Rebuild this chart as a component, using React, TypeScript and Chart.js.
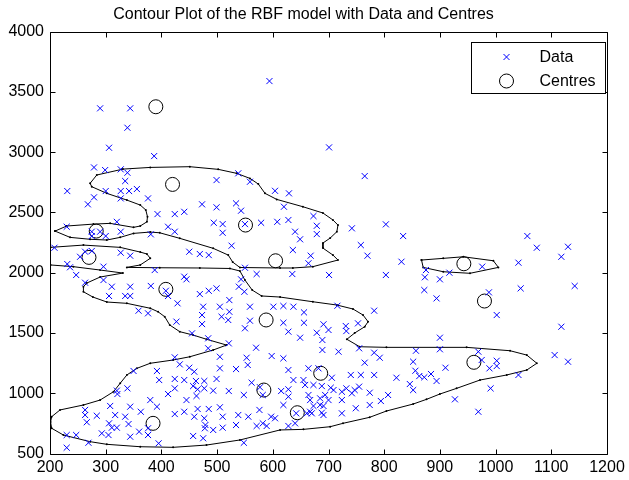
import React, { useEffect, useRef } from "react";
import { Chart, registerables } from "chart.js";

Chart.register(...registerables);

const TITLE = "Contour Plot of the RBF model with Data and Centres";
const FONT = '"Liberation Sans", Arial, Helvetica, sans-serif';

const xTicks = [200, 300, 400, 500, 600, 700, 800, 900, 1000, 1100, 1200];
const yTicks = [500, 1000, 1500, 2000, 2500, 3000, 3500, 4000];

const legendLabels = ["Data", "Centres"];

// Data samples (x, y)
const dataPoints: [number, number][] = [
  [290, 3363], [344, 3363], [339, 3202], [306, 3036], [387, 2967], [594, 3589], [701, 3039],
  [765, 2801], [499, 2768], [538, 2824], [559, 2754], [604, 2679], [629, 2658],
  [279, 2873], [299, 2851], [327, 2857], [339, 2829], [335, 2760], [231, 2677], [300, 2677],
  [327, 2677], [342, 2677], [356, 2694], [279, 2625], [327, 2616], [376, 2616], [268, 2567],
  [473, 2567], [499, 2542], [534, 2575], [543, 2514], [620, 2547], [393, 2486], [424, 2486],
  [441, 2505], [320, 2422], [230, 2381], [275, 2340], [290, 2340], [275, 2304], [300, 2304],
  [327, 2340], [381, 2318], [412, 2381], [424, 2340], [494, 2414], [510, 2403], [510, 2331],
  [550, 2403], [579, 2414], [608, 2422], [628, 2437], [208, 2207], [254, 2132], [263, 2174],
  [275, 2180], [327, 2166], [344, 2141], [450, 2174], [469, 2155], [485, 2146], [526, 2224],
  [231, 2072], [236, 2045], [247, 1981], [296, 2050], [263, 1917], [296, 1939], [311, 1884],
  [344, 1884], [306, 1807], [335, 1807], [344, 1807], [388, 2022], [441, 1967], [445, 1945],
  [381, 1890], [408, 1850], [412, 1807], [429, 1746], [469, 1823], [485, 1850], [499, 1870],
  [522, 1773], [539, 1884], [549, 1842], [543, 1945], [550, 2041], [571, 1989], [475, 1718],
  [505, 1718], [559, 1718], [601, 1718], [619, 1724], [359, 1685], [376, 1663], [473, 1649],
  [522, 1676], [508, 1635], [520, 1608], [473, 1574], [427, 1594], [559, 1602], [550, 1539],
  [628, 1511], [455, 1497], [484, 1456], [484, 1373], [521, 1414], [570, 1378], [505, 1303],
  [598, 1309], [619, 1290], [424, 1298], [433, 1240], [450, 1212], [459, 1179], [505, 1207],
  [534, 1201], [553, 1295], [555, 1235], [628, 1193], [350, 1185], [392, 1185], [396, 1110],
  [424, 1119], [441, 1110], [462, 1102], [477, 1102], [499, 1119], [424, 1041], [412, 994],
  [457, 1060], [465, 1033], [477, 1041], [493, 1022], [521, 1019], [548, 986], [562, 1088],
  [577, 1050], [582, 986], [615, 1019], [628, 1033], [320, 1022], [339, 1041], [321, 994],
  [380, 944], [392, 889], [363, 847], [344, 889], [308, 895], [263, 862], [263, 820],
  [284, 814], [266, 760], [317, 820], [335, 806], [341, 745], [306, 751], [311, 715],
  [320, 715], [293, 668], [305, 654], [344, 640], [360, 682], [376, 710], [376, 654],
  [395, 585], [445, 944], [463, 978], [424, 828], [441, 847], [459, 806], [465, 870],
  [477, 793], [485, 870], [505, 884], [510, 806], [538, 820], [556, 806], [534, 737],
  [510, 715], [493, 696], [478, 710], [479, 737], [457, 646], [475, 627], [548, 590],
  [576, 862], [582, 751], [589, 729], [597, 806], [604, 793], [571, 729], [619, 903],
  [628, 972], [230, 654], [247, 654], [269, 590], [230, 549], [637, 1718], [656, 1671],
  [619, 1585], [656, 1585], [691, 1572], [700, 1525], [679, 1502], [649, 1461], [689, 1442],
  [689, 1359], [718, 1345], [731, 1558], [732, 1516], [753, 1580], [782, 1685], [755, 1373],
  [782, 1337], [792, 1295], [765, 1254], [637, 1110], [664, 1207], [682, 1207], [706, 1129],
  [740, 1152], [758, 1152], [782, 1152], [655, 1110], [658, 1069], [673, 1069], [688, 1060],
  [704, 1046], [709, 1027], [724, 1013], [732, 1041], [747, 1027], [755, 1055], [742, 1000],
  [724, 944], [664, 986], [667, 944], [685, 958], [694, 986], [700, 944], [685, 903],
  [691, 895], [673, 895], [667, 847], [688, 839], [724, 834], [749, 876], [774, 1005],
  [774, 903], [794, 936], [807, 986], [822, 1129], [846, 1077], [852, 1027], [852, 1262],
  [856, 1187], [863, 1143], [872, 1133], [884, 1160], [894, 1102], [857, 1353], [900, 1365],
  [900, 1461], [910, 1212], [927, 950], [969, 1345], [975, 1276], [989, 1207], [1002, 1270],
  [1002, 1226], [1041, 1152], [991, 1041], [969, 847], [1002, 1649], [1106, 1317],
  [1130, 1262], [1118, 1552], [642, 834], [628, 729], [640, 751], [661, 834], [670, 834],
  [691, 820], [673, 2470], [679, 2389], [640, 2340], [649, 2277], [679, 2320], [742, 2368],
  [803, 2401], [834, 2304], [758, 2229], [770, 2141], [636, 2188], [668, 2141], [664, 2078],
  [831, 2091], [701, 1981], [635, 1989], [803, 1981], [875, 2022], [873, 1962], [917, 2000],
  [900, 1945], [872, 1856], [894, 1787], [976, 2050], [1057, 2304], [1074, 2207],
  [1041, 2083], [1045, 1870], [1130, 2215], [1118, 2132], [1142, 1890], [988, 1837],
  [716, 1726],
];

// RBF centres (x, y)
const centres: [number, number][] = [
  [390, 3376], [420, 2732], [551, 2395], [283, 2345], [270, 2127], [408, 1862], [605, 2099],
  [588, 1608], [584, 1027], [385, 751], [980, 1765], [961, 1257], [686, 1166], [644, 839],
  [943, 2074],
];

// Contour lines (x, y) – open line touching the left edge
const contourOuter: [number, number][] = [
  [201, 2210], [260, 2229], [326, 2210], [362, 2171], [374, 2155], [380, 2119], [362, 2064],
  [338, 2044], [397, 2041], [469, 2039], [523, 2035], [541, 2014], [550, 1939], [563, 1856],
  [580, 1807], [613, 1798], [672, 1759], [715, 1732], [744, 1699], [762, 1649], [771, 1594],
  [765, 1552], [747, 1500], [733, 1448], [756, 1386], [804, 1381], [948, 1381], [1026, 1353],
  [1056, 1317], [1074, 1249], [1056, 1193], [1020, 1152], [972, 1110], [930, 1041],
  [900, 994], [876, 950], [852, 911], [804, 853], [774, 801], [726, 751], [703, 723],
  [655, 701], [613, 696], [541, 613], [481, 571], [421, 552], [362, 557], [302, 577],
  [272, 599], [224, 654], [203, 710], [201, 762], [203, 806], [218, 862], [260, 903],
  [290, 944], [314, 1013], [326, 1083], [338, 1152], [356, 1207], [380, 1249], [421, 1276],
  [451, 1303], [493, 1359], [517, 1400], [481, 1448], [457, 1483], [433, 1511], [415, 1566],
  [406, 1635], [394, 1676], [380, 1705], [338, 1746], [302, 1757], [277, 1798], [260, 1842],
  [260, 1884], [266, 1914], [290, 1964], [331, 1997], [290, 2022], [242, 2050], [201, 2064],
];

// Closed contour around the upper / middle lobes
const contourUpper: [number, number][] = [
  [209, 2345], [230, 2387], [278, 2403], [308, 2409], [350, 2376], [362, 2387], [374, 2422],
  [375, 2464], [372, 2520], [362, 2561], [338, 2602], [302, 2658], [275, 2713], [272, 2741],
  [284, 2810], [331, 2859], [380, 2873], [451, 2879], [502, 2857], [535, 2824], [559, 2782],
  [574, 2735], [586, 2658], [607, 2608], [654, 2547], [690, 2495], [708, 2437], [717, 2395],
  [715, 2340], [703, 2287], [690, 2246], [690, 2204], [708, 2146], [717, 2105], [672, 2050],
  [636, 2039], [613, 2039], [541, 2043], [528, 2088], [520, 2146], [493, 2202], [433, 2285],
  [397, 2331], [380, 2337], [350, 2326], [326, 2293], [302, 2271], [272, 2277], [236, 2293],
  [209, 2345],
];

// Small closed contour on the right
const contourLens: [number, number][] = [
  [867, 2105], [906, 2119], [942, 2132], [996, 2099], [1005, 2044], [954, 1995], [906, 2008],
  [870, 2044], [867, 2105],
];

const toXY = (arr: [number, number][]) => arr.map(([x, y]) => ({ x, y }));

const framePlugin = {
  id: "matlabFrame",
  afterDraw(chart: any) {
    const { ctx, chartArea, scales } = chart;
    const { left, right, top, bottom } = chartArea;
    const xs = scales.x;
    const ys = scales.y;
    ctx.save();
    ctx.strokeStyle = "#000";
    ctx.lineWidth = 1;
    const L = Math.round(left) + 0.5;
    const R = Math.round(right) + 0.5;
    const T = Math.round(top) + 0.5;
    const B = Math.round(bottom) + 0.5;
    ctx.beginPath();
    ctx.rect(L, T, R - L, B - T);
    ctx.stroke();
    const tl = 5;
    ctx.beginPath();
    xTicks.forEach((v) => {
      const px = Math.round(xs.getPixelForValue(v)) + 0.5;
      ctx.moveTo(px, B);
      ctx.lineTo(px, B - tl);
      ctx.moveTo(px, T);
      ctx.lineTo(px, T + tl);
    });
    yTicks.forEach((v) => {
      const py = Math.round(ys.getPixelForValue(v)) + 0.5;
      ctx.moveTo(L, py);
      ctx.lineTo(L + tl, py);
      ctx.moveTo(R, py);
      ctx.lineTo(R - tl, py);
    });
    ctx.stroke();

    // legend
    const bw = 134;
    const bh = 51;
    const bx = R - 2 - bw;
    const by = T + 10;
    ctx.fillStyle = "#fff";
    ctx.fillRect(bx, by, bw, bh);
    ctx.strokeStyle = "#000";
    ctx.strokeRect(bx, by, bw, bh);
    const mx = bx + 35;
    const y1 = by + 14.5;
    const y2 = by + 38.5;
    ctx.strokeStyle = "rgb(0,0,255)";
    ctx.beginPath();
    const d = 3;
    ctx.moveTo(mx - d, y1 - d);
    ctx.lineTo(mx + d, y1 + d);
    ctx.moveTo(mx - d, y1 + d);
    ctx.lineTo(mx + d, y1 - d);
    ctx.stroke();
    ctx.strokeStyle = "#000";
    ctx.beginPath();
    ctx.arc(mx, y2, 7, 0, Math.PI * 2);
    ctx.stroke();
    ctx.fillStyle = "#000";
    ctx.font = "16px " + FONT;
    ctx.textAlign = "left";
    ctx.textBaseline = "middle";
    ctx.fillText(legendLabels[0], bx + 68, y1 + 1);
    ctx.fillText(legendLabels[1], bx + 68, y2 + 1);
    ctx.restore();
  },
};

export default function App() {
  const ref = useRef<HTMLCanvasElement | null>(null);
  useEffect(() => {
    if (!ref.current) return;
    const lineDs = (arr: [number, number][]) => ({
      data: toXY(arr),
      showLine: true,
      borderColor: "#000",
      borderWidth: 1,
      pointRadius: 1,
      pointBackgroundColor: "#000",
      pointBorderWidth: 0,
      pointStyle: "circle" as const,
      tension: 0,
      fill: false,
    });
    const chart = new Chart(ref.current, {
      type: "scatter",
      data: {
        datasets: [
          {
            label: legendLabels[0],
            data: toXY(dataPoints),
            pointStyle: "crossRot",
            pointRadius: 4.3,
            borderColor: "rgb(0,0,255)",
            backgroundColor: "rgb(0,0,255)",
            pointBorderWidth: 1,
            showLine: false,
          },
          {
            label: legendLabels[1],
            data: toXY(centres),
            pointStyle: "circle",
            pointRadius: 7,
            borderColor: "#000",
            backgroundColor: "rgba(0,0,0,0)",
            pointBorderWidth: 1,
            showLine: false,
          },
          lineDs(contourOuter),
          lineDs(contourUpper),
          lineDs(contourLens),
        ] as any,
      },
      options: {
        animation: false,
        responsive: false,
        devicePixelRatio: 1,
        layout: { padding: { left: 0, right: 22, top: 0, bottom: 0 } },
        plugins: {
          legend: { display: false },
          tooltip: { enabled: false },
          title: {
            display: true,
            text: TITLE,
            color: "#000",
            font: { family: FONT, size: 16, weight: "normal" as any, lineHeight: 1.2 },
            padding: { top: 5, bottom: 7.3 },
          },
        },
        scales: {
          x: {
            type: "linear",
            min: 200,
            max: 1200,
            afterBuildTicks: (s: any) => {
              s.ticks = xTicks.map((v) => ({ value: v }));
            },
            afterFit: (s: any) => {
              s.height = 26.4;
            },
            ticks: {
              color: "#000",
              font: { family: FONT, size: 16 },
              padding: 4,
              maxRotation: 0,
              autoSkip: false,
              callback: (v: any) => String(v),
            },
            grid: { display: false, drawTicks: false },
            border: { display: false },
          },
          y: {
            type: "linear",
            min: 500,
            max: 4000,
            afterBuildTicks: (s: any) => {
              s.ticks = yTicks.map((v) => ({ value: v }));
            },
            afterFit: (s: any) => {
              s.width = 50;
            },
            ticks: {
              color: "#000",
              font: { family: FONT, size: 16 },
              padding: 6,
              autoSkip: false,
              callback: (v: any) => String(v),
            },
            grid: { display: false, drawTicks: false },
            border: { display: false },
          },
        },
      },
      plugins: [framePlugin],
    });
    return () => chart.destroy();
  }, []);
  return (
    <div style={{ position: "fixed", left: 0, top: 0, width: 629, height: 480, background: "#fff" }}>
      <canvas ref={ref} width={629} height={480} style={{ width: 629, height: 480 }} />
    </div>
  );
}
